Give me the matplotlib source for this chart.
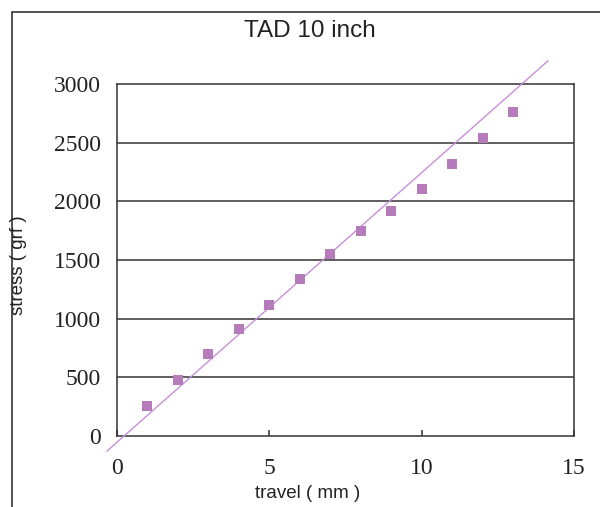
import matplotlib
matplotlib.use("Agg")
import matplotlib.pyplot as plt
from matplotlib.patches import Rectangle

# measured points
travel_mm = [1, 2, 3, 4, 5, 6, 7, 8, 9, 10, 11, 12, 13]
stress_gf = [258, 480, 700, 910, 1120, 1340, 1550, 1750, 1920, 2110, 2320, 2540, 2760]

# trend line as drawn (end points)
trend_x = [-0.33, 14.14]
trend_y = [-129, 3199]

x_ticks = [0, 5, 10, 15]
y_ticks = [0, 500, 1000, 1500, 2000, 2500, 3000]

SERIF = "Liberation Serif"
SANS = "Liberation Sans"
DARK = "#333333"


def main():
    fig = plt.figure(figsize=(6.0, 5.07), dpi=100)
    ax = fig.add_axes([0.195, 0.14, 0.762, 0.694])

    # chart-area frame (extends off the right and bottom edges)
    fig.patches.append(Rectangle((12 / 600, -0.1), 1.2, 1 - 12 / 507 + 0.1,
                                 transform=fig.transFigure, fill=False,
                                 edgecolor="#222222", linewidth=1.1))

    ax.set_xlim(0, 15)
    ax.set_ylim(0, 3000)
    for y in y_ticks[1:-1]:
        ax.axhline(y, color=DARK, linewidth=1.1, zorder=1)

    ax.plot(trend_x, trend_y, color="#c88fd8", linewidth=1.0,
            clip_on=False, zorder=3)
    ax.plot(travel_mm, stress_gf, linestyle="none", marker="s",
            markersize=7.8, color="#b57bbb", markeredgewidth=0,
            clip_on=False, zorder=4)

    for side in ax.spines.values():
        side.set_color(DARK)
        side.set_linewidth(1.1)

    ax.set_xticks(x_ticks)
    ax.set_yticks(y_ticks)
    ax.tick_params(axis="x", direction="in", length=4, width=1.1,
                   color=DARK, pad=16)
    ax.tick_params(axis="y", length=0, pad=11.5)
    for lab in ax.get_xticklabels() + ax.get_yticklabels():
        lab.set_fontfamily(SERIF)
        lab.set_fontsize(17)
        lab.set_color("#222222")

    fig.text(310 / 600, 1 - 31 / 507, "TAD 10 inch", ha="center",
             va="center", fontsize=17.5, family=SANS, color="#222222")
    fig.text(308 / 600, 1 - 493 / 507, "travel ( mm )", ha="center",
             va="center", fontsize=13.5, family=SANS, color="#222222")
    fig.text(19 / 600, 1 - 265 / 507, "stress ( grf )", ha="center",
             va="center", rotation=90, fontsize=13.5, family=SANS,
             color="#222222")

    fig.savefig("out.png", dpi=100, facecolor="white")


if __name__ == '__main__':
    main()
